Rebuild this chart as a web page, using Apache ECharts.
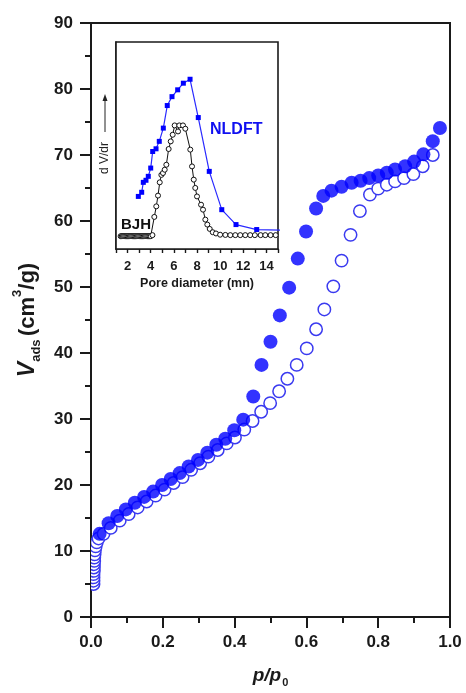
<!DOCTYPE html>
<html><head><meta charset="utf-8">
<script src="https://cdn.jsdelivr.net/npm/echarts@6/dist/echarts.min.js"></script>
<style>html,body{margin:0;padding:0;background:#fff}#c{width:466px;height:693px}</style>
</head><body><div id="c"></div>
<script>
// Main isotherm: adsorption (filled) and desorption (open)
const adsX = [0.024,0.049,0.073,0.097,0.122,0.148,0.173,0.198,0.222,0.247,0.272,0.298,0.324,0.349,0.374,0.399,0.424,0.452,0.475,0.5,0.526,0.552,0.576,0.599,0.627,0.647,0.67,0.698,0.726,0.751,0.775,0.8,0.824,0.847,0.875,0.9,0.926,0.952,0.972];
const adsY = [12.6,14.2,15.3,16.3,17.3,18.2,19.0,20.0,20.9,21.8,22.8,23.8,24.9,26.1,27.0,28.3,29.9,33.4,38.2,41.7,45.7,49.9,54.3,58.4,61.9,63.8,64.6,65.2,65.8,66.1,66.5,66.9,67.3,67.8,68.3,69.0,70.1,72.1,74.1];
const desX = [0.007,0.007,0.007,0.007,0.008,0.008,0.008,0.009,0.009,0.010,0.011,0.013,0.016,0.021,0.035,0.055,0.08,0.105,0.13,0.155,0.18,0.205,0.23,0.255,0.279,0.304,0.327,0.353,0.378,0.401,0.427,0.45,0.474,0.499,0.524,0.547,0.573,0.601,0.627,0.65,0.675,0.698,0.723,0.749,0.777,0.8,0.824,0.847,0.872,0.898,0.924,0.952];
const desY = [5.0,5.5,6.0,6.5,7.0,7.5,8.0,8.5,9.0,9.5,10.1,10.7,11.3,11.9,12.6,13.5,14.6,15.6,16.6,17.5,18.4,19.3,20.3,21.2,22.3,23.3,24.3,25.3,26.3,27.2,28.4,29.7,31.1,32.4,34.2,36.1,38.2,40.7,43.6,46.6,50.1,54.0,57.9,61.5,64.0,64.9,65.5,66.0,66.5,67.1,68.3,70.0];
// Inset: pore size distributions (arbitrary dV/dr units)
const nldftX = [2.93,3.22,3.36,3.59,3.79,4.0,4.17,4.46,4.74,5.09,5.43,5.84,6.33,6.82,7.4,8.11,9.06,10.14,11.37,13.16,15.6];
const nldftY = [25.4,27.4,32.2,33.2,35.1,39.1,47.1,48.4,52.0,58.4,69.3,73.6,76.9,80.1,82.0,63.5,37.5,19.0,11.8,9.4,9.0];
const bjhX = [1.4,1.5,1.6,1.7,1.8,1.9,2.0,2.1,2.2,2.3,2.4,2.5,2.6,2.7,2.8,2.9,3.0,3.1,3.2,3.3,3.4,3.5,3.6,3.7,3.8,3.9,4.0,4.15,4.31,4.48,4.63,4.78,4.92,5.06,5.21,5.35,5.55,5.73,5.9,6.07,6.36,6.47,6.79,6.99,7.42,7.57,7.72,7.85,8.0,8.35,8.52,8.72,8.89,9.1,9.36,9.64,10.0,10.45,10.88,11.31,11.74,12.17,12.6,13.0,13.5,13.9,14.36,14.8];
const bjhY = [6.2,6.2,6.2,6.2,6.2,6.2,6.2,6.2,6.2,6.2,6.2,6.2,6.2,6.2,6.2,6.2,6.2,6.2,6.2,6.2,6.2,6.2,6.2,6.2,6.2,6.2,6.2,6.7,15.5,20.6,25.8,32.2,35.8,36.7,38.3,40.7,48.3,52.0,55.2,59.7,56.8,59.7,59.7,58.1,48.0,39.9,33.5,29.5,25.4,21.4,19.0,14.2,11.8,9.7,8.1,7.5,6.9,6.8,6.7,6.7,6.7,6.7,6.7,6.7,6.7,6.7,6.7,6.7];
const mainXTicks = [0, 1, 0.2];
const mainYTicks = [0, 90, 10];
const insetXTicks = [1, 15, 1];

const zip = (a, b) => a.map((v, i) => [v, b[i]]);
const FONT = 'Arial, "Liberation Sans", sans-serif';
const AX = '#1a1a1a';

const chart = echarts.init(document.getElementById('c'), null, {renderer: 'canvas'});
const nl = zip(nldftX, nldftY);
nl[nl.length - 1] = {value: nl[nl.length - 1], symbol: 'none'};

chart.setOption({
  animation: false,
  backgroundColor: '#fff',
  grid: [
    {left: 91, right: 16, top: 23, bottom: 71, show: true, borderColor: AX, borderWidth: 2, containLabel: false},
    {left: 116, right: 188, top: 42, bottom: 444, show: true, borderColor: AX, borderWidth: 1.6, backgroundColor: '#fff', z: 5}
  ],
  xAxis: [
    {gridIndex: 0, type: 'value', min: mainXTicks[0], max: mainXTicks[1], interval: mainXTicks[2],
     axisLine: {lineStyle: {color: AX, width: 2}},
     axisTick: {length: 11, lineStyle: {color: AX, width: 2}},
     minorTick: {show: true, splitNumber: 2, length: 6, lineStyle: {color: AX, width: 2}},
     splitLine: {show: false},
     axisLabel: {margin: 17, color: AX, fontSize: 17, fontWeight: 'bold', fontFamily: FONT, formatter: v => v.toFixed(1)},
     name: '{p|p}{p|/}{p|p}{s|0}', nameLocation: 'middle', nameGap: 44,
     nameTextStyle: {rich: {
       p: {fontSize: 19, fontStyle: 'italic', fontWeight: 'bold', fontFamily: FONT, color: AX, lineHeight: 24, verticalAlign: 'bottom'},
       s: {fontSize: 11, fontWeight: 'bold', fontFamily: FONT, color: AX, lineHeight: 24, verticalAlign: 'bottom', padding: [0,0,-3,1]}
     }}},
    {gridIndex: 1, type: 'value', min: insetXTicks[0], max: insetXTicks[1], interval: insetXTicks[2],
     axisLine: {lineStyle: {color: AX, width: 1.6}},
     axisTick: {length: 4, lineStyle: {color: AX, width: 1.4}},
     splitLine: {show: false},
     axisLabel: {margin: 11, color: AX, fontSize: 13, fontWeight: 'bold', fontFamily: FONT,
       formatter: v => (v % 2 === 0 ? String(v) : ''), showMinLabel: true, showMaxLabel: true},
     name: 'Pore diameter (mn)', nameLocation: 'middle', nameGap: 28,
     nameTextStyle: {fontSize: 12.5, fontWeight: 'bold', fontFamily: FONT, color: AX}}
  ],
  yAxis: [
    {gridIndex: 0, type: 'value', min: mainYTicks[0], max: mainYTicks[1], interval: mainYTicks[2],
     axisLine: {lineStyle: {color: AX, width: 2}},
     axisTick: {length: 11, lineStyle: {color: AX, width: 2}},
     minorTick: {show: true, splitNumber: 2, length: 6, lineStyle: {color: AX, width: 2}},
     splitLine: {show: false},
     axisLabel: {margin: 18, color: AX, fontSize: 17, fontWeight: 'bold', fontFamily: FONT},
     name: '{v|V}{s|ads} {n|(cm}{u|3}{n|/g)}', nameLocation: 'middle', nameGap: 52, nameRotate: 90,
     nameTextStyle: {rich: {
       v: {fontSize: 23, fontStyle: 'italic', fontWeight: 'bold', fontFamily: FONT, color: AX, lineHeight: 30, verticalAlign: 'bottom'},
       s: {fontSize: 13, fontWeight: 'bold', fontFamily: FONT, color: AX, lineHeight: 30, verticalAlign: 'bottom', padding: [0,0,-4,0]},
       n: {fontSize: 22, fontWeight: 'bold', fontFamily: FONT, color: AX, lineHeight: 30, verticalAlign: 'bottom'},
       u: {fontSize: 13, fontWeight: 'bold', fontFamily: FONT, color: AX, lineHeight: 30, verticalAlign: 'top', padding: [2,0,0,0]}
     }}},
    {gridIndex: 1, type: 'value', min: 0, max: 100,
     axisLine: {lineStyle: {color: AX, width: 1.6}}, axisTick: {show: false}, axisLabel: {show: false}, splitLine: {show: false}}
  ],
  series: [
    {type: 'custom', xAxisIndex: 0, yAxisIndex: 0, data: zip(desX, desY), clip: true, z: 2,
     encode: {x: 0, y: 1},
     renderItem: (params, api) => {
       const p = api.coord([api.value(0), api.value(1)]);
       return {type: 'circle', shape: {cx: p[0], cy: p[1], r: 6.2},
               style: {fill: '#fff', stroke: '#3a3af0', lineWidth: 1.5}};
     }},
    {type: 'scatter', xAxisIndex: 0, yAxisIndex: 0, data: zip(adsX, adsY), symbol: 'circle', symbolSize: 14,
     itemStyle: {color: '#0000ff'}, z: 3},
    {type: 'line', xAxisIndex: 1, yAxisIndex: 1, data: zip(bjhX, bjhY), symbol: 'circle', symbolSize: 5, showSymbol: true,
     lineStyle: {color: '#111', width: 1}, itemStyle: {color: '#fff', borderColor: '#111', borderWidth: 1}, z: 6, clip: true},
    {type: 'line', xAxisIndex: 1, yAxisIndex: 1, data: nl, symbol: 'rect', symbolSize: 5, showSymbol: true,
     lineStyle: {color: '#2a2aff', width: 1.2}, itemStyle: {color: '#0000ff'}, z: 7, clip: true}
  ],
  graphic: [
    {type: 'text', left: 210, top: 122, z: 20, style: {text: 'NLDFT', fill: '#1010f0', fontSize: 16, fontWeight: 'bold', fontFamily: FONT}},
    {type: 'text', left: 121, top: 217, z: 20, style: {text: 'BJH', fill: '#111', fontSize: 15, fontWeight: 'bold', fontFamily: FONT}},
    {type: 'text', x: 105, y: 158, rotation: Math.PI / 2, z: 20,
     style: {text: 'd V/dr', fill: '#222', fontSize: 12, fontFamily: FONT, align: 'center', verticalAlign: 'middle'}},
    {type: 'line', z: 20, shape: {x1: 105, y1: 132, x2: 105, y2: 98}, style: {stroke: '#222', lineWidth: 1}},
    {type: 'polygon', z: 20, shape: {points: [[105, 94], [102.5, 101], [107.5, 101]]}, style: {fill: '#222'}}
  ]
});
</script></body></html>
